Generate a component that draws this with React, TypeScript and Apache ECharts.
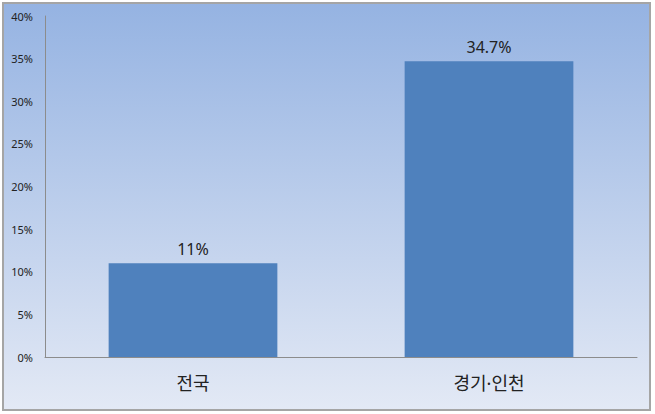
import * as echarts from "echarts";
import { useEffect, useRef } from "react";

const categories = ["전국", "경기·인천"];
const values = [11, 34.7];
const yTicks = [0, 5, 10, 15, 20, 25, 30, 35, 40];

const FONT = "'Noto Sans', 'Noto Sans CJK KR', sans-serif";

const App = () => {
  const chartRef = useRef(null);

  useEffect(() => {
    document.body.style.margin = "0";
    const chartInstance = echarts.init(chartRef.current, null, { renderer: "svg" });

    const options = {
      animation: false,
      graphic: [
        {
          type: "rect",
          z: -10,
          silent: true,
          shape: { x: 3, y: 3, width: 647, height: 407 },
          style: {
            fill: new echarts.graphic.LinearGradient(0, 0, 0, 1, [
              { offset: 0, color: "#95b3e2" },
              { offset: 1, color: "#e3e9f5" },
            ]),
            stroke: "#a5a5a5",
            lineWidth: 2,
          },
        },
      ],
      grid: { left: 45, right: 18, top: 16, bottom: 57 },
      xAxis: {
        type: "category",
        data: categories,
        axisLine: { lineStyle: { color: "#8c8c8c", width: 1 } },
        axisTick: { show: false },
        axisLabel: { color: "#222", fontSize: 18, margin: 17, fontFamily: FONT },
      },
      yAxis: {
        type: "value",
        min: yTicks[0],
        max: yTicks[yTicks.length - 1],
        interval: yTicks[1] - yTicks[0],
        axisLine: { show: true, lineStyle: { color: "#8c8c8c", width: 1 } },
        axisTick: { show: false },
        splitLine: { show: false },
        axisLabel: {
          color: "#222",
          fontSize: 11,
          margin: 12,
          fontFamily: FONT,
          formatter: (v: number) => `${v}%`,
        },
      },
      series: [
        {
          type: "bar",
          data: values,
          barWidth: "57%",
          itemStyle: { color: "#4f81bd" },
          label: {
            show: true,
            position: "top",
            distance: 6,
            color: "#222",
            fontSize: 16,
            fontFamily: FONT,
            formatter: (p: { value: number }) => `${p.value}%`,
          },
        },
      ],
    };

    chartInstance.setOption(options);

    const handleResize = () => chartInstance.resize();
    window.addEventListener("resize", handleResize);

    return () => {
      window.removeEventListener("resize", handleResize);
      chartInstance.dispose();
    };
  }, []);

  return <div ref={chartRef} style={{ width: "655px", height: "414px" }} />;
};

export default App;
